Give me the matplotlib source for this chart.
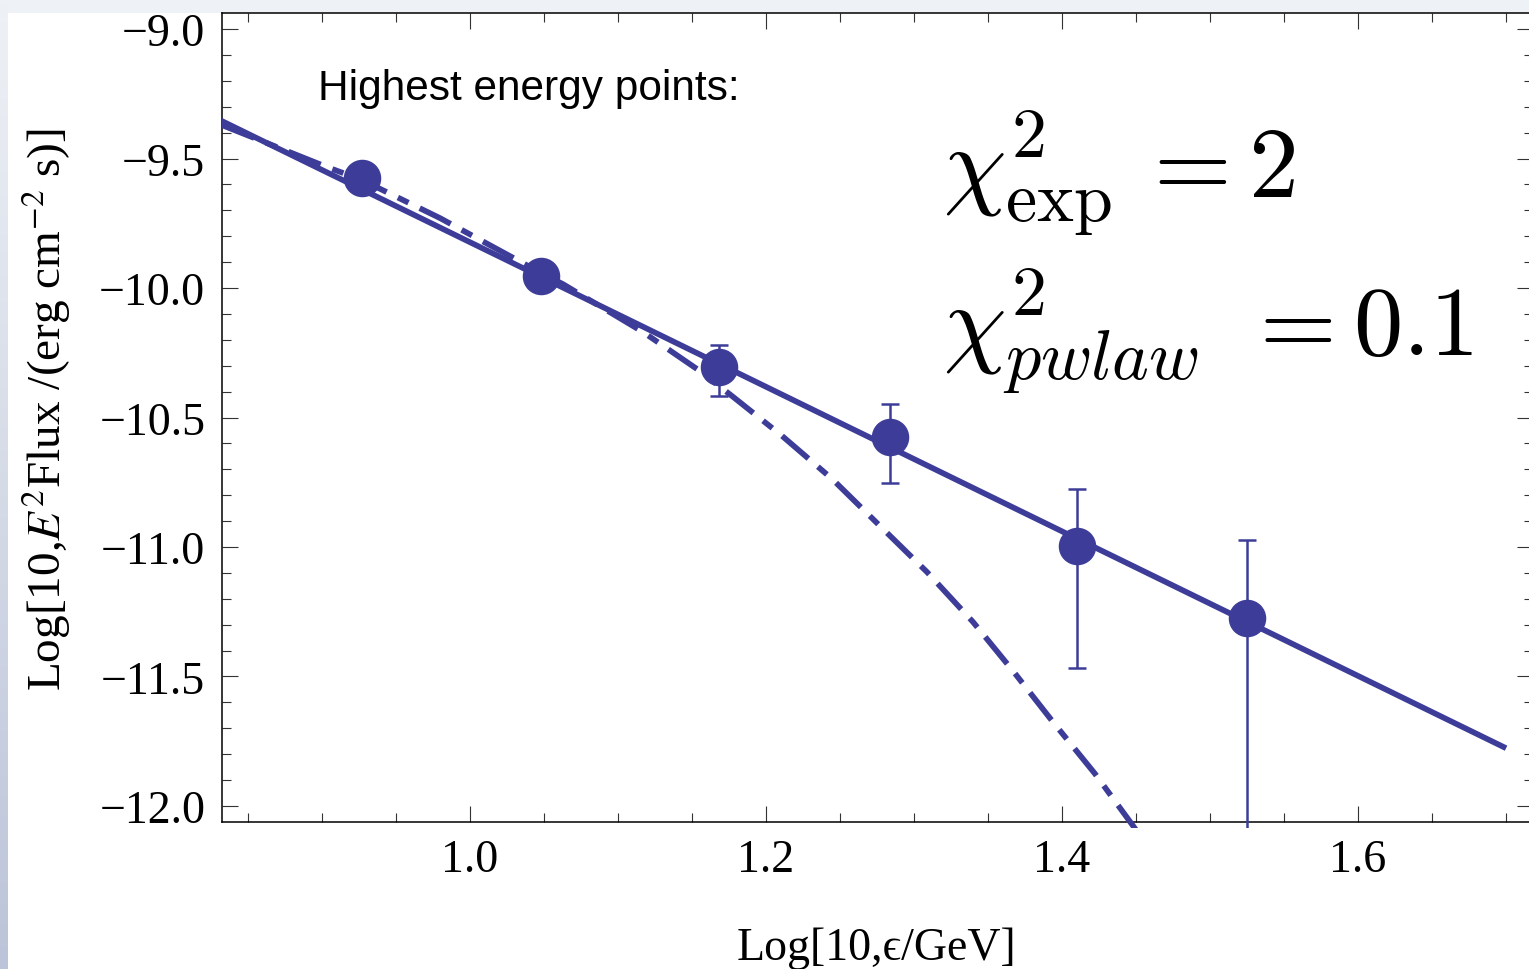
import matplotlib
matplotlib.use("Agg")
import matplotlib.pyplot as plt
import numpy as np
from matplotlib.ticker import MultipleLocator, FuncFormatter
from matplotlib.patches import Rectangle

plt.rcParams['font.family'] = ['Liberation Serif', 'DejaVu Serif']
plt.rcParams['lines.scale_dashes'] = False

# --- data (Log10 E/GeV , Log10 E^2 Flux) ---
pt_x = [0.927, 1.048, 1.1685, 1.2838, 1.4099, 1.525]
pt_y = [-9.575, -9.954, -10.306, -10.576, -10.995, -11.274]
err_hi = [-9.55, -9.93, -10.219, -10.449, -10.776, -10.973]
err_lo = [-9.60, -9.98, -10.416, -10.754, -11.468, -12.40]

# power law fit (solid)
pwlaw_x = [0.80, 1.70]
pwlaw_y = [-9.265, -11.777]

# exponential cutoff fit (dash-dot)
expcut_x = [0.8324, 0.9034, 0.927, 0.9797, 1.048, 1.0628, 1.1169, 1.1534,
            1.177, 1.2108, 1.2446, 1.277, 1.3088, 1.3399, 1.3669, 1.3939,
            1.4223, 1.448, 1.452]
expcut_y = [-9.371, -9.533, -9.583, -9.730, -9.942, -9.985, -10.170, -10.313,
            -10.417, -10.571, -10.737, -10.919, -11.097, -11.290, -11.479,
            -11.676, -11.876, -12.077, -12.11]

blue = '#3d3d99'
W, H = 1529, 970

fig = plt.figure(figsize=(W / 100, H / 100), dpi=100)
fig.patch.set_facecolor('#eef2f6')
fig.patches.append(Rectangle((8 / W, 0), 1, 1 - 14 / H, transform=fig.transFigure,
                             facecolor='white', edgecolor='none', zorder=-10))

# left gradient strip
gax = fig.add_axes([0, 0, 8 / W, 1], zorder=-5)
grad = np.linspace(0, 1, 256).reshape(-1, 1)
gax.imshow(grad, aspect='auto', cmap=matplotlib.colors.LinearSegmentedColormap.from_list(
    'strip', ['#eef1f5', '#bcc4d9']), origin='upper')
gax.axis('off')

ax = fig.add_axes([222 / W, (H - 823) / H, (1533 - 222) / W, (823 - 14) / H])
ax.set_facecolor('none')
ax.set_xlim(0.8324, 1.7182)
ax.set_ylim(-12.062, -8.938)

clip = Rectangle((0, -0.008), 1, 1.008, transform=ax.transAxes)

sol, = ax.plot(pwlaw_x, pwlaw_y, color=blue, lw=4.1, solid_capstyle='butt', zorder=3)
dd, = ax.plot(expcut_x, expcut_y, color=blue, lw=4.1, dash_capstyle='butt', zorder=3)
dd.set_dashes([25, 9, 8.5, 9])

yerr = [np.array(pt_y) - np.array(err_lo), np.array(err_hi) - np.array(pt_y)]
eb = ax.errorbar(pt_x, pt_y, yerr=yerr, fmt='none', ecolor=blue, elinewidth=1.8,
                 capsize=6.5, capthick=1.8, zorder=4)
mk, = ax.plot(pt_x, pt_y, 'o', color=blue, ms=26, zorder=5)

for art in [sol, dd, mk] + list(eb.lines[1]) + list(eb.lines[2]):
    art.set_clip_path(clip)

# ticks
fmt = FuncFormatter(lambda v, p: f"{v:.1f}".replace('-', '\u2212'))
ax.xaxis.set_major_locator(MultipleLocator(0.2))
ax.xaxis.set_minor_locator(MultipleLocator(0.05))
ax.yaxis.set_major_locator(MultipleLocator(0.5))
ax.yaxis.set_minor_locator(MultipleLocator(0.1))
ax.xaxis.set_major_formatter(fmt)
ax.yaxis.set_major_formatter(fmt)
ax.tick_params(which='both', direction='in', top=True, right=True, color='#333333',
               width=0.8, labelsize=33)
ax.tick_params(which='major', length=11.5)
ax.tick_params(which='minor', length=6.5)
ax.tick_params(axis='x', pad=12)
ax.tick_params(axis='y', pad=12)
for s in ax.spines.values():
    s.set_linewidth(1.1)

# labels
fig.text(876 / W, 1 - 960 / H, 'Log[10,\u03f5/GeV]', ha='center', va='baseline',
         fontsize=33, family=['Liberation Serif', 'DejaVu Serif'])
fig.text(46 / W, 1 - 410 / H, r'Log[10,$E^2$Flux /(erg cm$^{-2}$ s)]', ha='center',
         va='center', rotation=90, fontsize=34, math_fontfamily='stix')

fig.text(318 / W, 1 - 100 / H, 'Highest energy points:', fontsize=30.5,
         family='Liberation Sans', va='baseline')
fig.text(943 / W, 1 - 197 / H, r'$\chi^2_{\rm exp}$', fontsize=72,
         math_fontfamily='cm', va='baseline')
fig.text(1136 / W, 1 - 197 / H, r'$=2$', fontsize=72,
         math_fontfamily='cm', va='baseline')
fig.text(943 / W, 1 - 355 / H, r'$\chi^2_{pwlaw}$', fontsize=72,
         math_fontfamily='cm', va='baseline')
fig.text(1242 / W, 1 - 355 / H, r'$=0.1$', fontsize=71,
         math_fontfamily='cm', va='baseline')

fig.savefig('out.png', dpi=100, facecolor=fig.get_facecolor())
